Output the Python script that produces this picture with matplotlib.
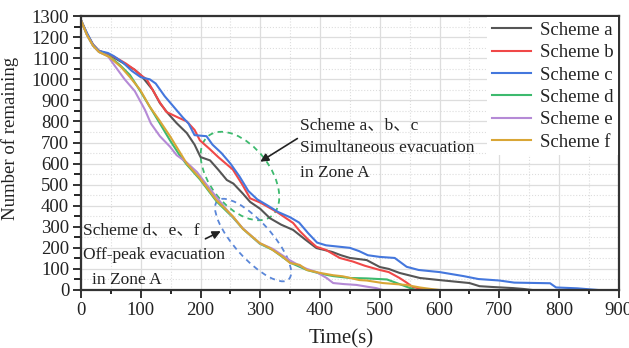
import matplotlib
matplotlib.use('Agg')
import matplotlib.pyplot as plt
from matplotlib.patches import Ellipse
from matplotlib.transforms import ScaledTranslation
from matplotlib.ticker import MultipleLocator

plt.rcParams['font.family'] = ['Liberation Serif', 'Noto Sans CJK SC', 'DejaVu Sans']

# data (time in s, people remaining)
t_a = [0, 10, 20, 30, 45, 60, 75, 90, 100, 110, 120, 132, 145, 160, 177, 190, 200, 216, 230, 244,
       255, 270, 283, 300, 316, 335, 355, 375, 394, 410, 421, 435, 450, 478, 500, 515, 533, 567, 600,
       625, 650, 667, 690, 723, 740, 755]
n_a = [1280, 1215, 1165, 1135, 1120, 1095, 1070, 1045, 1020, 985, 950, 887, 840, 792, 745, 690, 631,
       615, 570, 522, 505, 460, 418, 385, 341, 310, 285, 240, 199, 188, 180, 165, 152, 142, 109, 100,
       81, 57, 47, 40, 33, 18, 14, 9, 5, 0]

t_b = [0, 10, 20, 30, 45, 60, 75, 90, 100, 110, 120, 132, 143, 160, 177, 190, 199, 215, 230, 254,
       270, 283, 300, 328, 355, 366, 380, 394, 410, 433, 455, 475, 500, 515, 533, 545, 555, 570, 585]
n_b = [1280, 1215, 1165, 1135, 1120, 1100, 1075, 1045, 1020, 1000, 949, 890, 845, 822, 800, 760, 710,
       670, 630, 572, 500, 435, 415, 370, 318, 280, 240, 205, 190, 152, 135, 115, 95, 85, 57, 35, 14, 5, 0]

t_c = [0, 10, 20, 30, 45, 55, 70, 85, 100, 115, 125, 140, 155, 170, 180, 190, 210, 220, 235, 250,
       265, 280, 295, 310, 330, 350, 365, 380, 395, 410, 450, 465, 480, 500, 525, 545, 565, 600, 640,
       665, 700, 725, 785, 795, 830, 865]
n_c = [1280, 1220, 1165, 1135, 1125, 1110, 1080, 1040, 1010, 1000, 980, 920, 870, 820, 790, 735, 730,
       690, 650, 600, 540, 470, 430, 405, 370, 345, 320, 270, 225, 212, 200, 185, 165, 157, 152, 110,
       95, 85, 66, 52, 45, 35, 32, 12, 8, 0]

t_d = [0, 10, 20, 30, 48, 65, 82, 99, 115, 130, 149, 165, 177, 199, 227, 254, 271, 299, 321, 350,
       378, 400, 422, 450, 478, 512, 533, 550, 560]
n_d = [1280, 1210, 1160, 1130, 1108, 1068, 1020, 945, 870, 800, 710, 640, 595, 525, 420, 345, 290,
       220, 190, 130, 95, 78, 66, 57, 55, 50, 28, 10, 0]

t_e = [0, 10, 20, 30, 45, 55, 73, 90, 107, 117, 132, 149, 160, 177, 194, 210, 227, 244, 271, 299,
       321, 350, 366, 378, 394, 411, 422, 440, 461, 480, 494, 505]
n_e = [1280, 1210, 1160, 1130, 1110, 1070, 1000, 944, 855, 790, 730, 680, 640, 605, 560, 500, 440,
       380, 292, 222, 195, 140, 115, 100, 85, 57, 33, 28, 24, 15, 9, 0]

t_f = [0, 10, 20, 30, 48, 67, 82, 99, 115, 130, 149, 177, 199, 227, 254, 271, 299, 316, 338, 350,
       366, 378, 394, 400, 422, 438, 466, 478, 505, 544, 567, 585, 600]
n_f = [1280, 1210, 1160, 1130, 1105, 1058, 1010, 950, 870, 810, 730, 600, 530, 425, 350, 290, 223,
       199, 157, 128, 119, 95, 85, 81, 70, 65, 47, 45, 33, 24, 12, 5, 0]

labels = ['Scheme a', 'Scheme b', 'Scheme c', 'Scheme d', 'Scheme e', 'Scheme f']
colors = ['#555555', '#f04848', '#4477dd', '#3dba6e', '#b58ad6', '#d9a636']

fig = plt.figure(figsize=(6.29, 3.48), dpi=100)
ax = fig.add_axes([0.1288, 0.1667, 0.855, 0.787])

series = [(t_a, n_a), (t_b, n_b), (t_c, n_c), (t_d, n_d), (t_e, n_e), (t_f, n_f)]
for (tt, nn), lab, col in zip(series, labels, colors):
    ax.plot(tt, nn, color=col, lw=1.5, label=lab)

ax.set_xlim(0, 900)
ax.set_ylim(0, 1300)
ax.xaxis.set_major_locator(MultipleLocator(100))
ax.xaxis.set_minor_locator(MultipleLocator(50))
ax.yaxis.set_major_locator(MultipleLocator(100))
ax.yaxis.set_minor_locator(MultipleLocator(50))
ax.grid(which='major', color='#dddddd', lw=0.9)
ax.grid(which='minor', color='#dddddd', lw=0.8, ls=':')
ax.set_axisbelow(True)
ax.tick_params(which='major', direction='out', length=6, width=1.3, labelsize=13.5,
               colors='#222222', pad=2.5)
ax.tick_params(axis='x', which='minor', direction='out', length=3, width=1.2)
ax.tick_params(axis='y', which='minor', direction='out', length=5, width=1.2)
for sp in ax.spines.values():
    sp.set_linewidth(1.6)
    sp.set_color('#333333')

ax.set_xlabel('Time(s)', fontsize=15, color='#222222')
ax.set_ylabel('Number of remaining', fontsize=13.5, color='#222222')
ax.xaxis.set_label_coords(0.483, -0.145)
ax.yaxis.set_label_coords(-0.115, 0.555)

leg = ax.legend(loc='upper right', bbox_to_anchor=(1.0, 1.0), fontsize=13.5, frameon=True,
                fancybox=False, edgecolor='none', framealpha=1, handlelength=2.1,
                handletextpad=0.45, labelspacing=0.28, borderaxespad=0.05, borderpad=0.25)
for t in leg.get_texts():
    t.set_color('#222222')

# annotations
txt_kw = dict(fontsize=12.5, color='#222222')
ax.text(366, 783, 'Scheme a、b、c', va='center', ha='left', **txt_kw)
ax.text(366, 674, 'Simultaneous evacuation', va='center', ha='left', **txt_kw)
ax.text(366, 555, 'in Zone A', va='center', ha='left', **txt_kw)
ax.text(3, 285, 'Scheme d、e、f', va='center', ha='left', **txt_kw)
ax.text(3, 166, 'Off-peak evacuation', va='center', ha='left', **txt_kw)
ax.text(18, 47, 'in Zone A', va='center', ha='left', **txt_kw)

ax.annotate('', xy=(296, 602), xytext=(366, 726),
            arrowprops=dict(arrowstyle='-|>', color='#222222', lw=1.2, mutation_scale=12))
ax.annotate('', xy=(238, 285), xytext=(204, 237),
            arrowprops=dict(arrowstyle='-|>', color='#222222', lw=1.2, mutation_scale=12))

# dashed ellipses, sized in inches and anchored at a data point
for cx, cy, w, h, ang, col in [(266, 541, 1.02, 0.60, -52, '#3dba6e'),
                               (288, 237, 1.06, 0.37, -48, '#5a86d8')]:
    tr = fig.dpi_scale_trans + ScaledTranslation(cx, cy, ax.transData)
    ax.add_patch(Ellipse((0, 0), w, h, angle=ang, transform=tr, fill=False,
                         ls=(0, (3, 2.5)), lw=1.3, edgecolor=col))

fig.savefig('out.png', dpi=100)
